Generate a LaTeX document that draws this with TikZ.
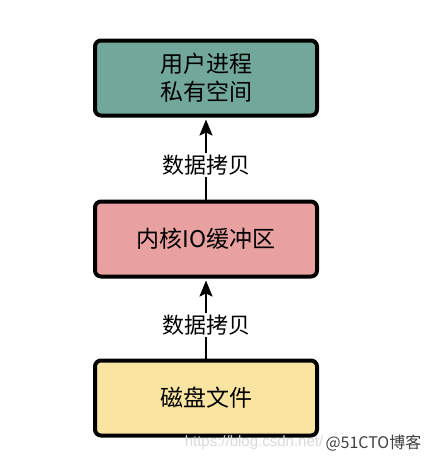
\documentclass[tikz,border=0pt]{standalone}
\usepackage{fontspec}
\setmainfont{Noto Sans CJK SC}
\newfontfamily\markfont{Liberation Sans}
\usetikzlibrary{arrows.meta}
\definecolor{colprocess}{RGB}{114,168,155}
\definecolor{colbuffer}{RGB}{232,160,160}
\definecolor{coldisk}{RGB}{250,228,162}
\tikzset{
	>={Stealth[length=16pt,width=13pt,inset=3pt]},
	box/.style={draw, line width=4pt, rounded corners=6pt, minimum width=222pt,
		minimum height=75pt, align=center, font=\fontsize{23}{28}\selectfont},
	copy/.style={->, line width=2pt, shorten >=2pt},
	copylabel/.style={fill=white, inner sep=2pt, font=\fontsize{22}{26}\selectfont}
}

\begin{document}
\begin{tikzpicture}[x=1pt, y=-1pt]
	\useasboundingbox (0,0) rectangle (432,464);
	\node[box, fill=colprocess] (process) at (206,78) {用户进程\\私有空间};
	\node[box, fill=colbuffer] (buffer) at (206,239) {内核IO缓冲区};
	\node[box, fill=coldisk] (disk) at (206,398) {磁盘文件};
	\foreach \from/\to in {buffer/process, disk/buffer} {
		\draw[copy] (\from.north) -- (\to.south)
			node[copylabel, pos=0.42] {数据拷贝};
	}
	% watermark
	\node[text=black!15, font=\markfont\fontsize{15}{15}\selectfont] (url) at (254,443) {https://blog.csdn.net/};
	\node[text=black!75, font=\fontsize{16}{16}\selectfont, anchor=west] (mark) at (322,443) {@51CTO博客};
\end{tikzpicture}
\end{document}
